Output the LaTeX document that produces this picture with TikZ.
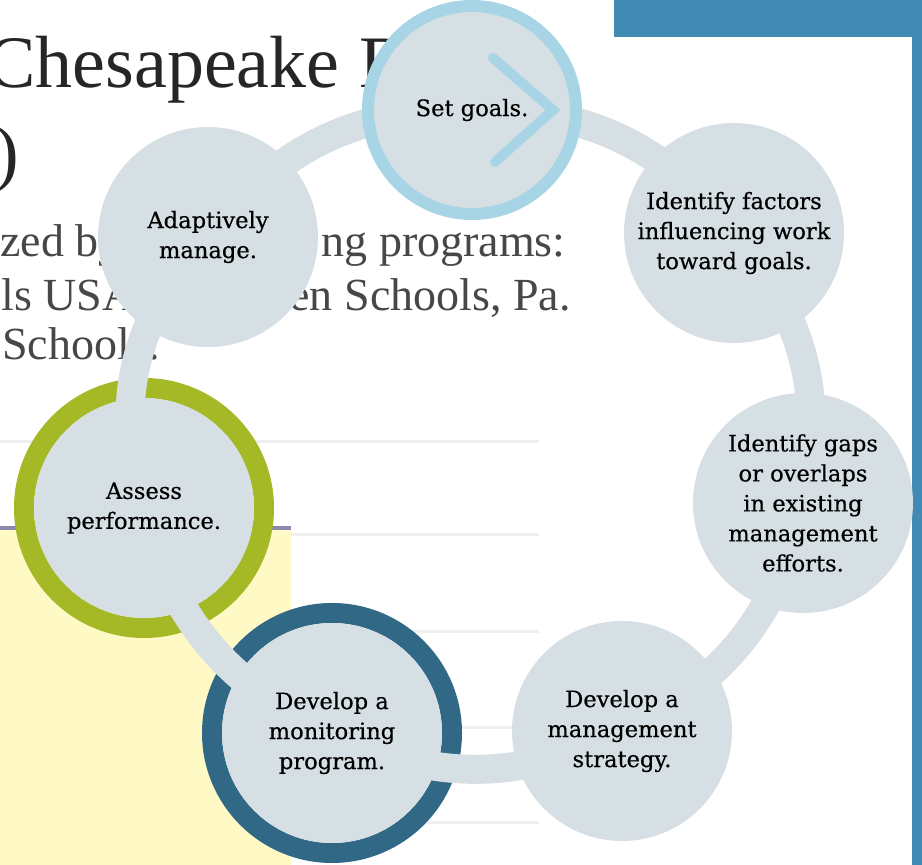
\documentclass[tikz,border=0pt]{standalone}
\usepackage{fontspec}
\usepackage{xcolor}
\usetikzlibrary{backgrounds}
\newfontfamily\labelfont[FakeBold=0.5]{DejaVu Serif}
\newfontfamily\pagefont{Liberation Serif}
\definecolor{stagefill}{HTML}{D6DFE4}
\definecolor{goalblue}{HTML}{A8D5E6}
\definecolor{ringgreen}{HTML}{A5B826}
\definecolor{ringteal}{HTML}{306886}
\definecolor{barblue}{HTML}{418AB4}
\definecolor{noteyellow}{HTML}{FFF9C6}
\definecolor{noteedge}{HTML}{8C8AAC}
\definecolor{rulegray}{HTML}{EFEFEF}
\definecolor{pagetext}{HTML}{262626}

\begin{document}
\begin{tikzpicture}[x=0.5pt,y=-0.5pt,
  stage/.style={circle,fill=stagefill,minimum size=110pt,inner sep=0pt,align=center,text=black,font=\labelfont\fontsize{11.3}{15}\selectfont},
  ring/.style={line width=10pt},
  link/.style={draw=stagefill,line width=14.5pt},
  pagetitle/.style={inner sep=0pt,text=pagetext,font=\pagefont\fontsize{37}{40}\selectfont},
  pageline/.style={inner sep=0pt,text=pagetext!85,font=\pagefont\fontsize{23}{28}\selectfont},
  rule/.style={draw=rulegray,line width=1.5pt}]
\useasboundingbox (0,0) rectangle (922,865);

\node[stage,draw=goalblue,line width=6pt,minimum size=104pt] (goals) at (472,110) {Set goals.};
\node[stage] (factors) at (734,233) {Identify factors\\influencing work\\toward goals.};
\node[stage] (gaps) at (803,503) {Identify gaps\\or overlaps\\in existing\\management\\efforts.};
\node[stage] (strategy) at (622,731) {Develop a\\management\\strategy.};
\node[stage] (monitoring) at (332,733) {Develop a\\monitoring\\program.};
\node[stage] (assess) at (144,508) {Assess\\performance.};
\node[stage] (adaptive) at (208,237) {Adaptively\\manage.};
\draw[goalblue,line width=5pt,line cap=round] ([shift={(21,-52)}]goals.center) -- ([shift={(81,0)}]goals.center) -- ([shift={(23,52)}]goals.center);

\begin{scope}[on background layer]
\fill[noteyellow] (0,529) rectangle (291,865);
\draw[noteedge,line width=2pt] (0,528) -- (291,528);
\draw[rule] (0,442) -- (539,442);
\draw[rule] (291,535) -- (539,535);
\draw[rule] (291,632) -- (539,632);
\draw[rule] (291,728) -- (539,728);
\draw[rule] (291,823) -- (539,823);
\fill[barblue] (614,0) rectangle (922,37);
\fill[barblue] (912,37) rectangle (922,865);
\node[pagetitle,anchor=base east] (title) at (340,88) {Chesapeake};
\node[pagetitle,anchor=base west] (titlecut) at (359,88) {B};
\node[pagetitle,anchor=base east] (titleparen) at (20,178) {)};
\node[pageline,anchor=base west] (lineonea) at (0,257) {zed by};
\node[pageline,anchor=base east] (lineoneb) at (566,257) {ng programs:};
\node[pageline,anchor=base west] (linetwoa) at (-22,311) {ols USA,};
\node[pageline,anchor=base east] (linetwob) at (571,311) {en Schools, Pa.};
\node[pageline,anchor=base west] (linethree) at (2,360) {Schools.};
\draw[ring,ringgreen] (assess.center) circle (60pt);
\draw[ring,ringteal] (monitoring.center) circle (60pt);
\draw[link] (goals.center) to[bend left=26] (factors.center) to[bend left=26] (gaps.center) to[bend left=26] (strategy.center) to[bend left=26] (monitoring.center) to[bend left=26] (assess.center) to[bend left=30] (adaptive.center) to[bend left=26] (goals.center);
\end{scope}
\end{tikzpicture}
\end{document}
